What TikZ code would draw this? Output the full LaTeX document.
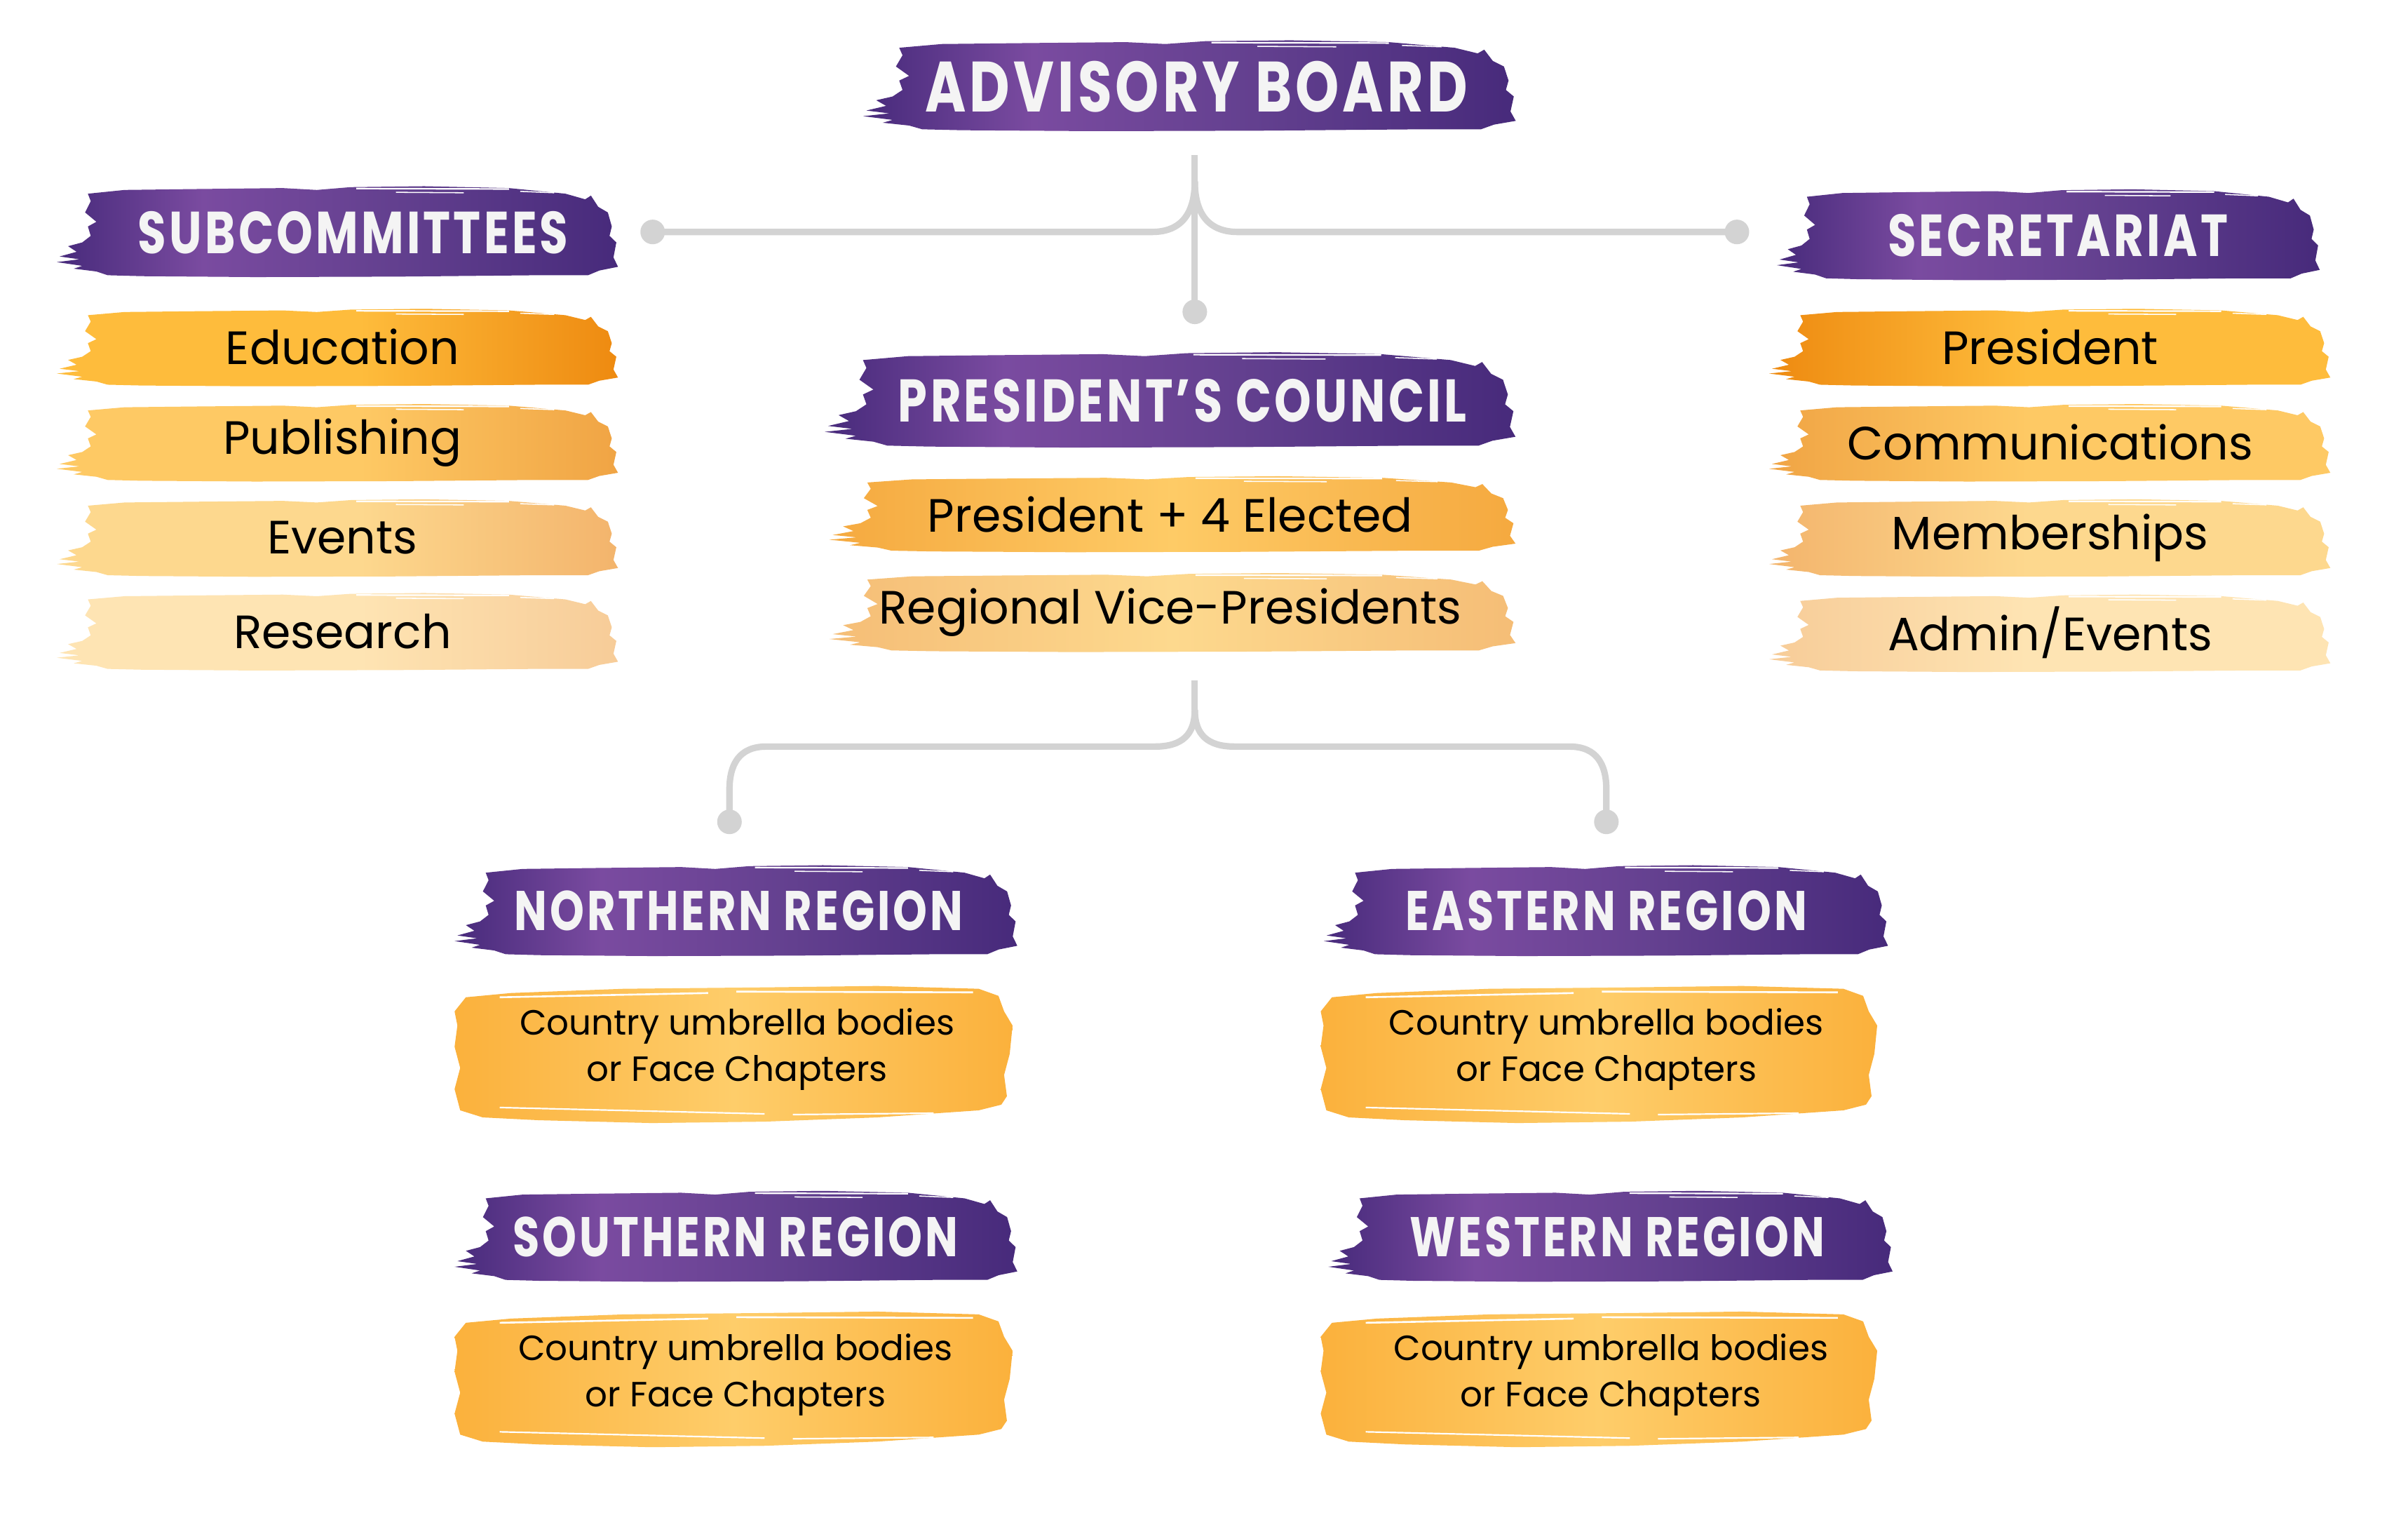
\documentclass[tikz,border=0pt]{standalone}
\usepackage{fontspec}
\setmainfont{Poppins}
\newfontfamily\headfont{Poppins}[FakeStretch=0.78,LetterSpace=5]
\usetikzlibrary{calc}
\definecolor{pd}{HTML}{472A7B}
\definecolor{pl}{HTML}{7A4BA0}
\definecolor{pm}{HTML}{63408F}
\definecolor{hwhite}{HTML}{F4F4F4}
\definecolor{lgray}{HTML}{D3D3D3}
% orange tones
\definecolor{oA}{HTML}{FEBC3C}
\definecolor{oAd}{HTML}{EE8A10}
\definecolor{oB}{HTML}{FEC964}
\definecolor{oBd}{HTML}{F0A444}
\definecolor{oC}{HTML}{FDD88E}
\definecolor{oCd}{HTML}{F3B46C}
\definecolor{oD}{HTML}{FEE4B3}
\definecolor{oDd}{HTML}{F7CC98}
\definecolor{oE}{HTML}{FECB66}
\definecolor{oEd}{HTML}{F5A93F}
\definecolor{oF}{HTML}{FDD98E}
\definecolor{oFd}{HTML}{F5BD76}
\definecolor{oG}{HTML}{FECD6A}
\definecolor{oGd}{HTML}{FBB13C}
\pgfdeclarehorizontalshading{purp}{100bp}{color(0bp)=(pd); color(25bp)=(pd); color(38bp)=(pl); color(55bp)=(pm); color(75bp)=(pd); color(100bp)=(pd)}
\newcommand\shadeLR[3]{\pgfdeclarehorizontalshading{#1}{100bp}{color(0bp)=(#2); color(25bp)=(#2); color(52bp)=(#2); color(75bp)=(#3); color(100bp)=(#3)}}
\newcommand\shadeRL[3]{\pgfdeclarehorizontalshading{#1}{100bp}{color(0bp)=(#3); color(25bp)=(#3); color(48bp)=(#2); color(75bp)=(#2); color(100bp)=(#2)}}
\newcommand\shadeMid[3]{\pgfdeclarehorizontalshading{#1}{100bp}{color(0bp)=(#3); color(25bp)=(#3); color(50bp)=(#2); color(75bp)=(#3); color(100bp)=(#3)}}
\shadeLR{shA}{oA}{oAd}
\shadeLR{shB}{oB}{oBd}
\shadeLR{shC}{oC}{oCd}
\shadeLR{shD}{oD}{oDd}
\shadeRL{shAr}{oA}{oAd}
\shadeRL{shBr}{oB}{oBd}
\shadeRL{shCr}{oC}{oCd}
\shadeRL{shDr}{oD}{oDd}
\shadeMid{shE}{oE}{oEd}
\shadeMid{shF}{oF}{oFd}
\shadeMid{shG}{oG}{oGd}
% brush stroke (bar) in a unit box, y downward
\newcommand\brushH[5]{%
\begin{scope}[shift={(#1,#2)},xscale={(#3)-(#1)},yscale={(#4)-(#2)}]
\shade[shading=#5] (0.055,0.10) -- (0.12,0.06) -- (0.25,0.05) -- (0.40,0.04) -- (0.46,0.06) -- (0.52,0.03) -- (0.65,0.02) -- (0.80,0.04) -- (0.90,0.10) -- (0.935,0.16) -- (0.945,0.12) -- (0.958,0.24) -- (0.975,0.30) -- (0.982,0.45) -- (0.978,0.55) -- (0.99,0.62) -- (0.985,0.78) -- (0.993,0.88) -- (0.96,0.92) -- (0.94,0.97) -- (0.85,0.97) -- (0.60,0.985) -- (0.35,0.99) -- (0.15,0.98) -- (0.09,0.97) -- (0.07,0.93) -- (0.03,0.90) -- (0.045,0.87) -- (0.0,0.83) -- (0.04,0.80) -- (0.005,0.77) -- (0.035,0.72) -- (0.02,0.66) -- (0.045,0.62) -- (0.06,0.55) -- (0.055,0.45) -- (0.07,0.40) -- (0.05,0.30) -- (0.06,0.18) -- cycle;
\draw[white,line width=0.5pt] (0.53,0.045) -- (0.80,0.05);
\draw[white,line width=0.35pt] (0.60,0.085) -- (0.72,0.09) (0.82,0.075) -- (0.88,0.09);
\end{scope}}
% brush stroke (tall body) in a unit box
\newcommand\brushR[5]{%
\begin{scope}[shift={(#1,#2)},xscale={(#3)-(#1)},yscale={(#4)-(#2)}]
\shade[shading=#5] (0.02,0.10) -- (0.1,0.07) -- (0.3,0.04) -- (0.55,0.03) -- (0.75,0.02) -- (0.93,0.04) -- (0.965,0.09) -- (0.975,0.2) -- (0.99,0.3) -- (0.985,0.5) -- (0.975,0.65) -- (0.98,0.8) -- (0.97,0.86) -- (0.93,0.9) -- (0.75,0.95) -- (0.55,0.98) -- (0.35,0.99) -- (0.15,0.97) -- (0.05,0.95) -- (0.01,0.9) -- (0.0,0.75) -- (0.01,0.6) -- (0.0,0.45) -- (0.005,0.3) -- (0.0,0.2) -- cycle;
\draw[white,line width=0.6pt] (0.08,0.10) -- (0.45,0.07) (0.50,0.06) -- (0.92,0.065);
\draw[white,line width=0.5pt] (0.08,0.88) -- (0.55,0.925) (0.6,0.93) -- (0.85,0.92);
\end{scope}}
\begin{document}
\begin{tikzpicture}[x=0.5pt,y=-0.5pt,
  hd/.style={font=\headfont\bfseries\fontsize{19.3}{22}\selectfont, text=hwhite, inner sep=0pt, minimum height=30pt},
  bigbar/.style={font=\fontsize{15.2}{18}\selectfont, text=black, inner sep=0pt, minimum height=26pt},
  regtext/.style={font=\fontsize{11.4}{15}\selectfont, text=black, align=center, inner sep=0pt, minimum height=46pt},
  reghd/.style={hd, font=\headfont\bfseries\fontsize{18.2}{21}\selectfont},
  conn/.style={draw=lgray, line width=2.1pt},
  dotc/.style={fill=lgray}]
\fill[white] (0,0) rectangle (1568,994);
\useasboundingbox (0,0) rectangle (1568,994);

% ---------- brushes ----------
\brushH{562}{25}{990}{86}{purp}
\brushH{37}{120}{405}{181}{purp}
\brushH{37}{200}{405}{252}{shA}
\brushH{37}{262}{405}{314}{shB}
\brushH{37}{324}{405}{376}{shC}
\brushH{37}{385}{405}{437}{shD}
\brushH{1157}{122}{1513}{183}{purp}
\brushH{1152}{200}{1520}{252}{shAr}
\brushH{1152}{262}{1520}{314}{shBr}
\brushH{1152}{324}{1520}{376}{shCr}
\brushH{1152}{386}{1520}{438}{shDr}
\brushH{537}{228}{990}{292}{purp}
\brushH{540}{309}{990}{360}{shE}
\brushH{540}{372}{990}{425}{shF}
\brushH{296}{562}{665}{623}{purp}
\brushR{296}{640}{663}{732}{shG}
\brushH{862}{562}{1232}{623}{purp}
\brushR{860}{640}{1226}{732}{shG}
\brushH{296}{774}{665}{835}{purp}
\brushR{296}{852}{663}{943}{shG}
\brushH{865}{774}{1235}{835}{purp}
\brushR{860}{852}{1226}{943}{shG}

% ---------- nodes ----------
\node[hd, font=\headfont\bfseries\fontsize{23.2}{26}\selectfont] (adv) at (779,56.5) {ADVISORY BOARD};
\node[hd] (sub) at (230,151.5) {SUBCOMMITTEES};
\node[bigbar] (edu) at (223,226) {Education};
\node[bigbar] (pub) at (223,288) {Publishing};
\node[bigbar] (evt) at (223,350) {Events};
\node[bigbar] (res) at (223,411) {Research};
\node[hd] (sec) at (1340,153.5) {SECRETARIAT};
\node[bigbar] (spres) at (1335,226) {President};
\node[bigbar] (comm) at (1335,288) {Communications};
\node[bigbar] (memb) at (1335,350) {Memberships};
\node[bigbar] (admin) at (1335,412) {Admin/Events};
\node[hd, font=\headfont\bfseries\fontsize{19.6}{22}\selectfont] (pc) at (770,261) {PRESIDENT’S COUNCIL};
\node[bigbar] (p4) at (762,335) {President + 4 Elected};
\node[bigbar] (rvp) at (762,398.5) {Regional Vice-Presidents};
\node[reghd] (north) at (481,593) {NORTHERN REGION};
\node[regtext] (northb) at (480,683) {Country umbrella bodies\\or Face Chapters};
\node[reghd] (east) at (1046,593) {EASTERN REGION};
\node[regtext] (eastb) at (1046,683) {Country umbrella bodies\\or Face Chapters};
\node[reghd] (south) at (479,805) {SOUTHERN REGION};
\node[regtext] (southb) at (479,895) {Country umbrella bodies\\or Face Chapters};
\node[reghd] (west) at (1053,805) {WESTERN REGION};
\node[regtext] (westb) at (1049,895) {Country umbrella bodies\\or Face Chapters};

% ---------- connectors ----------
\coordinate (dotL) at (425,151);
\coordinate (dotR) at (1131,151);
\coordinate (dotC) at (778,203);
\coordinate (jT) at (778,118);
\coordinate (jB) at (778,462);
\coordinate (dotNL) at (475,535);
\coordinate (dotNR) at (1046,535);

\draw[conn] ($(dotC |- adv.south)+(0,14)$) -- (dotC);
\draw[conn] (dotL) -- (750,151) .. controls (770,151) and (778,138) .. (jT);
\draw[conn] (dotR) -- (806,151) .. controls (786,151) and (778,138) .. (jT);
\fill[dotc] (dotL) circle (4pt) (dotR) circle (4pt) (dotC) circle (4pt);

\draw[conn] ($(jB |- rvp.south)+(0,18)$) -- (jB);
\draw[conn] (jB) .. controls (778,478) and (770,486) .. (752,486) -- (499,486) .. controls (481,486) and (475,498) .. (475,514) -- (dotNL);
\draw[conn] (jB) .. controls (778,478) and (786,486) .. (804,486) -- (1022,486) .. controls (1040,486) and (1046,498) .. (1046,514) -- (dotNR);
\fill[dotc] (dotNL) circle (4pt) (dotNR) circle (4pt);
\end{tikzpicture}
\end{document}
